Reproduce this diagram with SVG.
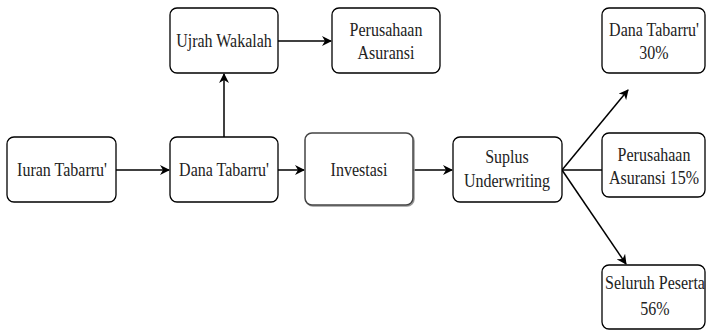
<svg xmlns="http://www.w3.org/2000/svg" width="706" height="330" viewBox="0 0 706 330">
<style>
.box{fill:#fff;stroke:#000;stroke-width:1.3}
.t{font-family:"Liberation Serif","Times New Roman",serif;font-size:16px;fill:#222;text-anchor:middle}
.c{fill:none;stroke:#000;stroke-width:1.5}
</style>
<defs>
<marker id="ah" viewBox="0 0 10 10" refX="9" refY="5" markerWidth="10" markerHeight="10" markerUnits="userSpaceOnUse" orient="auto">
<path d="M0,0 L10,5 L0,10 L3,5 z" fill="#000"/>
</marker>
</defs>
<rect width="706" height="330" fill="#fff"/>
<g id="connectors">
<line class="c" x1="116" y1="170" x2="169" y2="170" marker-end="url(#ah)"/>
<line class="c" x1="278" y1="170" x2="304" y2="170" marker-end="url(#ah)"/>
<line class="c" x1="413" y1="170" x2="452" y2="170" marker-end="url(#ah)"/>
<line class="c" x1="224" y1="137" x2="224" y2="74" marker-end="url(#ah)"/>
<line class="c" x1="278" y1="41" x2="331" y2="41" marker-end="url(#ah)"/>
<line class="c" x1="562" y1="170" x2="602" y2="170"/>
<line class="c" x1="562" y1="170" x2="628" y2="90" marker-end="url(#ah)"/>
<line class="c" x1="562" y1="170" x2="626" y2="264" marker-end="url(#ah)"/>
</g>
<g id="iuran"><rect class="box" x="7" y="137" width="109" height="65" rx="7"/><text class="t" transform="matrix(1,0,0,1.15,62,176)">Iuran Tabarru'</text></g>
<g id="dana"><rect class="box" x="170" y="137" width="108" height="65" rx="7"/><text class="t" transform="matrix(1,0,0,1.15,224,176)">Dana Tabarru'</text></g>
<g id="ujrah"><rect class="box" x="170" y="8" width="108" height="65" rx="7"/><text class="t" transform="matrix(1,0,0,1.15,224,47)">Ujrah Wakalah</text></g>
<g id="perusahaan"><rect class="box" x="332" y="8" width="108" height="65" rx="7"/><text class="t" transform="matrix(1,0,0,1.15,386,36)">Perusahaan</text><text class="t" transform="matrix(1,0,0,1.15,386,59)">Asuransi</text></g>
<g id="investasi"><rect x="306" y="134" width="108" height="72" rx="7" fill="none" stroke="#999" stroke-width="1.5"/><rect class="box" x="305" y="133" width="108" height="72" rx="7" style="stroke:#444;stroke-width:1.5"/><text class="t" transform="matrix(1,0,0,1.15,359,176)">Investasi</text></g>
<g id="suplus"><rect class="box" x="453" y="137" width="109" height="65" rx="7"/><text class="t" transform="matrix(1,0,0,1.15,507,163)">Suplus</text><text class="t" transform="matrix(1,0,0,1.15,507,187)">Underwriting</text></g>
<g id="dana30"><rect class="box" x="602" y="8" width="103" height="65" rx="7"/><text class="t" transform="matrix(1,0,0,1.15,654,36)">Dana Tabarru'</text><text class="t" transform="matrix(1,0,0,1.15,654,59)">30%</text></g>
<g id="perusahaan15"><rect class="box" x="602" y="133" width="103" height="64" rx="7"/><text class="t" transform="matrix(1,0,0,1.15,654,161)">Perusahaan</text><text class="t" transform="matrix(1,0,0,1.15,654,184)">Asuransi 15%</text></g>
<g id="seluruh"><rect class="box" x="602" y="265" width="103" height="64" rx="7"/><text class="t" transform="matrix(1,0,0,1.15,655,289)">Seluruh Peserta</text><text class="t" transform="matrix(1,0,0,1.15,655,315)">56%</text></g>
</svg>
